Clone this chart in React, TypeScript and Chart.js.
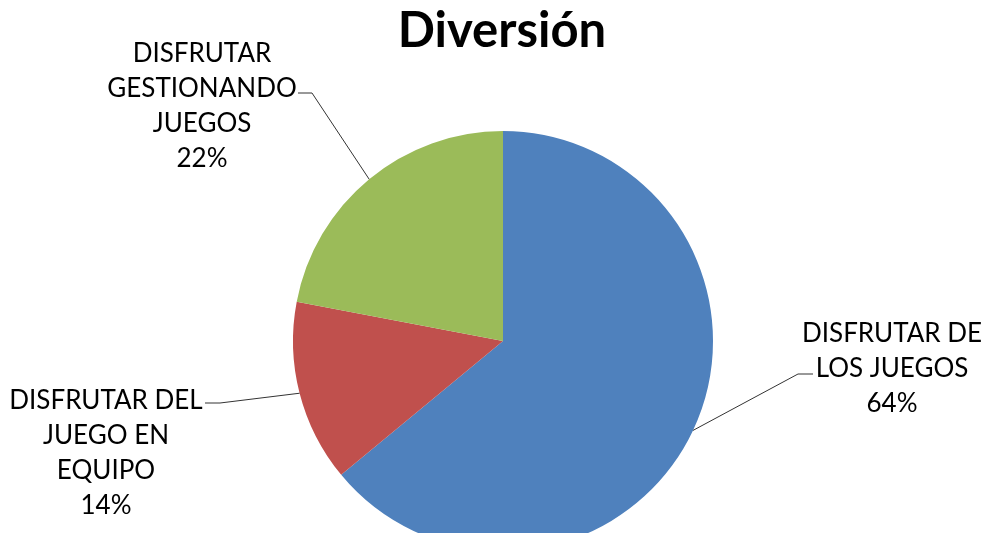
import React, { useEffect, useRef } from "react";
import { Chart, registerables } from "chart.js";

Chart.register(...registerables);

const title = "Diversión";
const categories = [
  "DISFRUTAR DE LOS JUEGOS",
  "DISFRUTAR DEL JUEGO EN EQUIPO",
  "DISFRUTAR GESTIONANDO JUEGOS",
];
const values = [64, 14, 22];
const labelLines = [
  ["DISFRUTAR DE", "LOS JUEGOS"],
  ["DISFRUTAR DEL", "JUEGO EN", "EQUIPO"],
  ["DISFRUTAR", "GESTIONANDO", "JUEGOS"],
];
const colors = ["#4F81BD", "#C0504D", "#9BBB59"];

// label layout: text centre x, first line centre y, elbow point, horizontal end
const labelLayout = [
  { cx: 892, y0: 332, elbow: [798, 374], end: [813, 374] },
  { cx: 106, y0: 399, elbow: [220, 403], end: [205, 403] },
  { cx: 202, y0: 52, elbow: [312, 93], end: [298, 93] },
];

const LINE_H = 35;
const FONT = "Lato, 'Open Sans', sans-serif";

const labelPlugin = {
  id: "excelLabels",
  afterDraw(chart: any) {
    const ctx = chart.ctx;
    const meta = chart.getDatasetMeta(0);
    const total = values.reduce((a, b) => a + b, 0);
    ctx.save();
    // title
    ctx.fillStyle = "#000";
    ctx.font = `bold 49px ${FONT}`;
    ctx.textAlign = "center";
    ctx.textBaseline = "alphabetic";
    ctx.fillText(title, 502, 47);

    meta.data.forEach((arc: any, i: number) => {
      const p = arc.getProps(["x", "y", "startAngle", "endAngle", "outerRadius"], true);
      const mid = (p.startAngle + p.endAngle) / 2;
      const ax = p.x + Math.cos(mid) * p.outerRadius;
      const ay = p.y + Math.sin(mid) * p.outerRadius;
      const L = labelLayout[i];
      ctx.strokeStyle = "#333";
      ctx.lineWidth = 1;
      ctx.beginPath();
      ctx.moveTo(ax, ay);
      ctx.lineTo(L.elbow[0], L.elbow[1]);
      ctx.lineTo(L.end[0], L.end[1]);
      ctx.stroke();

      const pct = Math.round((values[i] / total) * 100) + "%";
      const lines = [...labelLines[i], pct];
      ctx.fillStyle = "#000";
      ctx.font = `26px ${FONT}`;
      ctx.textAlign = "center";
      ctx.textBaseline = "alphabetic";
      lines.forEach((t, k) => {
        ctx.fillText(t, L.cx, L.y0 + k * LINE_H + 9.5);
      });
    });
    ctx.restore();
  },
};

export default function App() {
  const ref = useRef<HTMLCanvasElement | null>(null);
  useEffect(() => {
    if (!ref.current) return;
    const chart = new Chart(ref.current, {
      type: "pie",
      data: {
        labels: categories,
        datasets: [
          {
            data: values,
            backgroundColor: colors,
            borderWidth: 0,
          },
        ],
      },
      options: {
        responsive: false,
        animation: false,
        layout: { padding: { top: 131, bottom: 9, left: 293, right: 271 } },
        plugins: {
          legend: { display: false },
          tooltip: { enabled: false },
          title: { display: false },
        },
      },
      plugins: [labelPlugin],
    });
    return () => chart.destroy();
  }, []);
  return (
    <div
      style={{
        position: "fixed",
        left: 0,
        top: 0,
        width: 984,
        height: 533,
        overflow: "hidden",
        background: "#fff",
      }}
    >
      <canvas ref={ref} width={984} height={560} style={{ width: 984, height: 560, display: "block" }} />
    </div>
  );
}
